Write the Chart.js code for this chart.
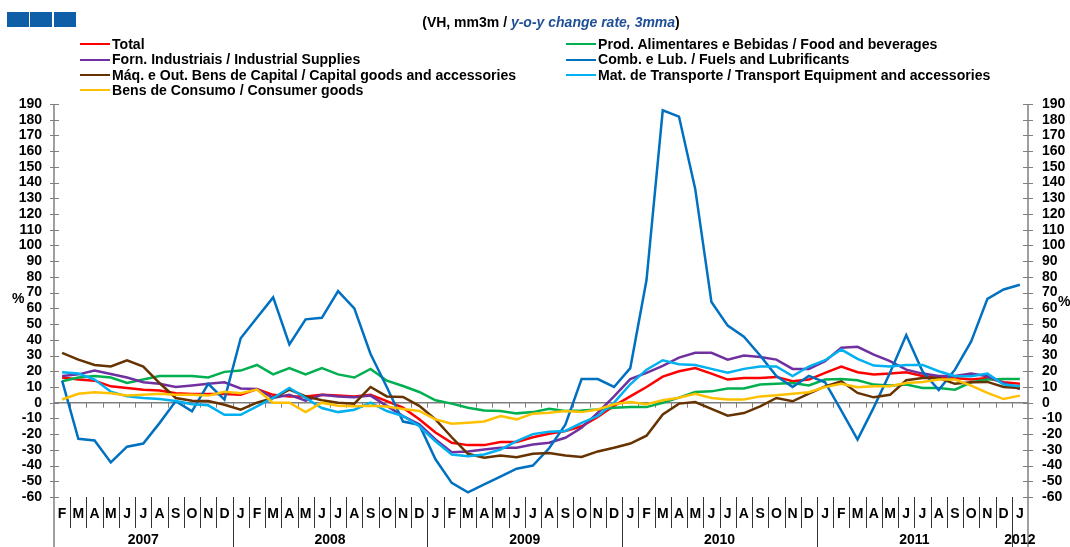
<!DOCTYPE html>
<html>
<head>
<meta charset="utf-8">
<script src="https://cdn.jsdelivr.net/npm/chart.js@4.4.1/dist/chart.umd.min.js"></script>
<style>
  body { margin: 0; background: #fff; }
  #wrap { position: relative; width: 1070px; height: 547px; overflow: hidden; font-family: "Liberation Sans", Arial, sans-serif; font-weight: bold; }
  #chart { position: absolute; left: 0; top: 0; }
  .sq { position: absolute; top: 12px; width: 22px; height: 15px; background: #0f5ea8; }
  #title { position: absolute; top: 14px; left: 0; width: 1102px; text-align: center; font-size: 14px; color: #000; white-space: nowrap; }
  #title i { color: #1f4f96; }
  .leg { position: absolute; font-size: 14.1px; line-height: 15px; color: #000; white-space: nowrap; }
  .leg span { display: inline-block; width: 30px; height: 2px; vertical-align: middle; margin-right: 2px; position: relative; top: -1px; }
  .pct { position: absolute; font-size: 14px; color: #000; }
</style>
</head>
<body>
<div id="wrap">
  <canvas id="chart" width="1070" height="547"></canvas>
  <div class="sq" style="left:7px"></div>
  <div class="sq" style="left:30px"></div>
  <div class="sq" style="left:54px"></div>
  <div id="title">(VH, mm3m / <i>y-o-y change rate, 3mma</i>)</div>
  <div class="pct" style="left:12px; top:290px">%</div>
  <div class="pct" style="left:1058px; top:293px">%</div>
</div>
<script>
// Feb 2007 .. Jan 2012, monthly
const monthLetters = ['J', 'F', 'M', 'A', 'M', 'J', 'J', 'A', 'S', 'O', 'N', 'D'];
const months = monthLetters.slice(1)
    .concat(monthLetters, monthLetters, monthLetters, monthLetters, ['J']);
const years = ['2007', '2008', '2009', '2010', '2011', '2012'];
const firstMonth = 1; // February

const total = [16, 14.7, 14, 10.4, 9.4, 8.3, 7.7, 6, 5.5, 5.5, 5.5, 5, 8.7, 5, 4, 4, 5, 4.5, 4, 5,
    1, -3.2, -10.6, -19, -25.5, -27, -27, -25, -25, -22, -19.8, -18, -15, -9, -2, 4, 10, 16.6, 20, 22,
    18.5, 14.7, 15.7, 15.7, 16.4, 13.6, 14.7, 19, 23, 19.4, 18, 18.5, 19.4, 17, 15.7, 15.7, 14.7, 15.7, 13, 12];
const food = [13.6, 16, 17, 16, 12.5, 14.7, 17, 17, 17, 16, 19.6, 20.4, 24, 18, 22, 18, 22, 18, 16, 21.5,
    14, 10.6, 6.8, 1.5, -0.6, -3.2, -5, -5.3, -6.8, -6, -3.8, -5.3, -5, -4.3, -3.2, -2.8, -2.8, 0, 3.2, 6.8,
    7.2, 9, 9, 11.5, 12, 12.5, 10.9, 14.7, 15, 14.3, 11.5, 10.9, 11.5, 9.4, 9.4, 8.3, 13, 14.7, 15, 15];
const industrial = [17, 18, 20.4, 18.3, 16, 13, 12, 10, 11, 12, 13, 9, 8.7, 3, 5, 1.3, 5, 4, 3.4, 4.5,
    -2, -8.5, -13.8, -23.4, -31.5, -31, -29.8, -28.7, -28.7, -26.6, -25.5, -22.3, -16, -6.4, 4, 15, 19, 23.4, 28.7, 31.7,
    31.7, 27.4, 30, 29, 27.4, 21.5, 21.5, 26.4, 35, 35.5, 30.6, 26.4, 21, 18.5, 17, 17, 18.5, 16.8, 12.5, 8.7];
const fuels = [14, -23, -24, -38, -28, -26, -13, 1, -5.5, 12, 2, 41, 54, 67, 37, 53, 54, 71, 60, 31,
    10, -12, -14, -36, -51, -57, -52, -47, -42, -40, -29, -14, 15, 15, 10, 22, 78, 186, 182, 136,
    64, 49, 42, 30, 17, 10, 17, 13, -5, -23.5, -3, 19, 43, 20, 8, 21, 39, 66, 72, 75];
const capital = [31.7, 27.4, 24, 23, 27, 23, 12.5, 3, 1.3, 1, -1.3, -4.5, 0, 3, 8.3, 4, 1.5, 0, -0.6, 10,
    4, 3.6, -2, -10.6, -22, -32.5, -35, -33.6, -34.7, -32.5, -32, -33.6, -34.5, -31, -28.7, -26, -21, -7.5, -0.6, 0.4,
    -4, -8.3, -6.6, -2.3, 3, 0.9, 5.7, 10.4, 13.6, 6.2, 3.4, 5, 14.3, 15.7, 15.7, 12, 13, 13.2, 10, 9.4];
const transport = [19.4, 18.5, 14.7, 7, 4, 3, 2.3, 1, -1, -1.7, -7.7, -7.7, -2.3, 3, 9.4, 3, -3.4, -6, -4.5, 0,
    -5.3, -8.5, -15, -24.5, -33, -34, -33, -29.8, -24.5, -20, -18.5, -18, -12.8, -8.5, 0, 11.7, 21, 27, 24.5, 24,
    21.5, 19, 21.5, 23, 23, 17, 23, 27, 33.8, 27.9, 23.6, 23, 24, 24, 20, 16.8, 16.8, 18.5, 11.5, 10.4];
const consumer = [2, 5.7, 6.6, 6, 4.5, 5, 5.7, 5, 5, 4.5, 7, 6, 8.3, 0, 0, -6, 0, -2, -2.3, -2,
    -2.5, -4, -5.3, -10.6, -13.4, -12.8, -12, -8.5, -10.6, -7, -6.4, -5.3, -6, -4.3, -1, 0.4, -1, 1.5, 3.2, 5.7,
    3, 2, 2, 4, 4.7, 5.7, 6.6, 10, 12, 9.8, 10.4, 10.4, 12.5, 13.2, 14.7, 14.7, 10.9, 6.2, 2.3, 4.5];

const seriesNames = [
    'Total',
    'Prod. Alimentares e Bebidas / Food and beverages',
    'Forn. Industriais / Industrial Supplies',
    'Comb. e Lub. /  Fuels and Lubrificants',
    'Máq. e Out. Bens de Capital / Capital goods and accessories',
    'Mat. de Transporte / Transport Equipment and accessories',
    'Bens de Consumo / Consumer goods'
];
const seriesData = [total, food, industrial, fuels, capital, transport, consumer];
const seriesColors = ['#ff0000', '#00b050', '#7030a0', '#0070c0', '#663300', '#00b0f0', '#ffc000'];

const tickFont = { family: '"Liberation Sans", Arial, sans-serif', size: 14, weight: 'bold' };
const monthFont = { family: '"Liberation Sans", Arial, sans-serif', size: 14, weight: 'bold' };
const grey = '#7f7f7f';

// legend, two columns filled row by row
const wrap = document.getElementById('wrap');
seriesNames.forEach((name, k) => {
    const d = document.createElement('div');
    d.className = 'leg';
    d.style.left = (k % 2 ? 566 : 80) + 'px';
    d.style.top = (37 + Math.floor(k / 2) * 15.4) + 'px';
    d.innerHTML = '<span style="background:' + seriesColors[k] + '"></span>' + name;
    wrap.appendChild(d);
});

function line(ctx, x1, y1, x2, y2) {
    ctx.beginPath();
    ctx.moveTo(x1, y1);
    ctx.lineTo(x2, y2);
    ctx.stroke();
}

const frame = {
    id: 'frame',
    beforeDatasetsDraw(chart) {
        const { ctx, chartArea: a, scales: { x, y } } = chart;
        const n = months.length;
        const w = (a.right - a.left) / n;
        const y0 = y.getPixelForValue(0);
        ctx.save();
        ctx.strokeStyle = grey;
        ctx.lineWidth = 1.5;
        line(ctx, a.left, y0, a.right, y0);
        ctx.lineWidth = 1;
        for (let k = 1; k < n; k++) {
            const bx = Math.round(a.left + k * w) + 0.5;
            line(ctx, bx, y0, bx, y0 + 5);
        }
        ctx.lineWidth = 1.5;
        line(ctx, a.left, a.top, a.left, 547);
        line(ctx, a.right, a.top, a.right, 547);
        ctx.lineWidth = 1;
        y.ticks.forEach(t => {
            const py = Math.round(y.getPixelForValue(t.value)) + 0.5;
            line(ctx, a.left - 4, py, a.left + 5, py);
            line(ctx, a.right - 5, py, a.right + 5, py);
        });
        // month and year separators
        ctx.strokeStyle = '#333';
        let start = 0, yi = 0;
        ctx.fillStyle = '#000';
        ctx.font = 'bold 14px "Liberation Sans", Arial, sans-serif';
        ctx.textAlign = 'center';
        ctx.textBaseline = 'middle';
        for (let k = 1; k <= n; k++) {
            const bx = Math.round(a.left + k * w) + 0.5;
            const newYear = (firstMonth + k) % 12 === 0 || k === n;
            if (k < n) line(ctx, bx, a.bottom, bx, newYear ? 547 : a.bottom + 31);
            if (newYear) {
                const cx = a.left + (start + k) / 2 * w;
                ctx.fillText(years[yi], cx, 540);
                start = k;
                yi++;
            }
        }
        ctx.restore();
    }
};

new Chart(document.getElementById('chart'), {
    type: 'line',
    data: {
        labels: months,
        datasets: seriesData.map((d, k) => ({
            label: seriesNames[k],
            data: d,
            borderColor: seriesColors[k],
            backgroundColor: seriesColors[k],
            order: seriesData.length - k
        }))
    },
    options: {
        responsive: false,
        animation: false,
        devicePixelRatio: 1,
        layout: { padding: { top: 104, left: 0, right: 0, bottom: 0 } },
        plugins: { legend: { display: false }, tooltip: { enabled: false } },
        elements: {
            point: { radius: 0 },
            line: { borderWidth: 2.5, tension: 0 }
        },
        scales: {
            x: {
                offset: true,
                grid: { display: false, drawTicks: false },
                border: { display: false },
                ticks: { autoSkip: false, maxRotation: 0, font: monthFont, color: '#000', padding: 9 },
                afterFit(s) { s.height = 50; }
            },
            y: {
                position: 'left',
                min: -60, max: 190,
                grid: { display: false, drawTicks: false },
                border: { display: false },
                ticks: { stepSize: 10, autoSkip: false, font: tickFont, color: '#000', padding: 12 },
                afterFit(s) { s.width = 54; }
            },
            y2: {
                position: 'right',
                min: -60, max: 190,
                grid: { display: false, drawTicks: false },
                border: { display: false },
                ticks: { stepSize: 10, autoSkip: false, font: tickFont, color: '#000', padding: 14 },
                afterFit(s) { s.width = 42; }
            }
        }
    },
    plugins: [frame]
});
</script>
</body>
</html>
